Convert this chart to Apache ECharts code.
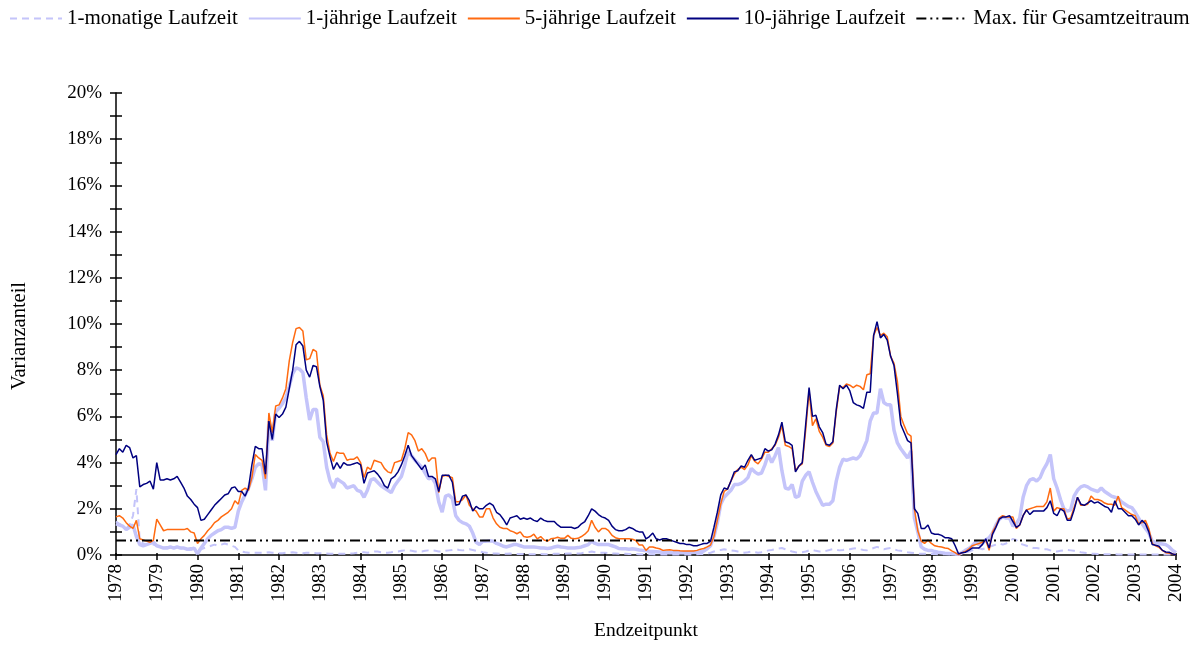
<!DOCTYPE html>
<html>
<head>
<meta charset="utf-8">
<script src="https://cdn.jsdelivr.net/npm/echarts@6/dist/echarts.min.js"></script>
<style>
  html, body { margin: 0; padding: 0; background: #fff; }
  #chart { width: 1200px; height: 646px; }
</style>
</head>
<body>
<div id="chart"></div>
<script>
// monthly values in %, first value = Jan 1978, last value = Jan 2004
const startYear = 1978;
const endYear = 2004;
const yTicks = [0, 2, 4, 6, 8, 10, 12, 14, 16, 18, 20];
const maxValue = 0.63;

const names = ['1-monatige Laufzeit', '1-jährige Laufzeit', '5-jährige Laufzeit', '10-jährige Laufzeit', 'Max. für Gesamtzeitraum'];

const m1 = [
    1.45, 1.35, 1.25, 1.15, 1.3, 1.7, 2.85, 0.6, 0.5, 0.45, 0.5, 0.45,   // 1978
    0.4, 0.35, 0.3, 0.35, 0.3, 0.3, 0.35, 0.3, 0.25, 0.25, 0.3, 0.25,     // 1979
    0.2, 0.25, 0.3, 0.35, 0.4, 0.45, 0.4, 0.45, 0.5, 0.45, 0.4, 0.35,     // 1980
    0.2, 0.15, 0.12, 0.1, 0.1, 0.1, 0.1, 0.1, 0.1, 0.12, 0.1, 0.1,        // 1981
    0.08, 0.08, 0.1, 0.1, 0.12, 0.1, 0.08, 0.08, 0.1, 0.1, 0.1, 0.08,     // 1982
    0.08, 0.07, 0.06, 0.05, 0.05, 0.06, 0.05, 0.05, 0.06, 0.07, 0.08, 0.1, // 1983
    0.12, 0.12, 0.1, 0.12, 0.15, 0.15, 0.12, 0.1, 0.1, 0.12, 0.15, 0.15,  // 1984
    0.18, 0.2, 0.2, 0.18, 0.15, 0.15, 0.15, 0.18, 0.2, 0.2, 0.18, 0.15,   // 1985
    0.15, 0.18, 0.2, 0.22, 0.25, 0.22, 0.2, 0.22, 0.25, 0.22, 0.18, 0.15, // 1986
    0.12, 0.1, 0.08, 0.07, 0.06, 0.05, 0.05, 0.05, 0.06, 0.05, 0.04, 0.04, // 1987
    0.04, 0.04, 0.03, 0.03, 0.04, 0.04, 0.03, 0.03, 0.04, 0.05, 0.05, 0.05, // 1988
    0.05, 0.06, 0.06, 0.07, 0.07, 0.08, 0.1, 0.12, 0.15, 0.12, 0.1, 0.1,  // 1989
    0.1, 0.08, 0.07, 0.06, 0.05, 0.05, 0.05, 0.04, 0.04, 0.04, 0.03, 0.03, // 1990
    0.03, 0.03, 0.03, 0.02, 0.02, 0.02, 0.02, 0.02, 0.02, 0.02, 0.02, 0.02, // 1991
    0.02, 0.02, 0.03, 0.03, 0.04, 0.05, 0.07, 0.1, 0.15, 0.2, 0.22, 0.25, // 1992
    0.22, 0.2, 0.18, 0.15, 0.12, 0.1, 0.12, 0.15, 0.12, 0.1, 0.12, 0.15,  // 1993
    0.2, 0.22, 0.25, 0.28, 0.3, 0.25, 0.2, 0.15, 0.12, 0.1, 0.12, 0.15,   // 1994
    0.2, 0.22, 0.18, 0.15, 0.15, 0.18, 0.22, 0.25, 0.22, 0.2, 0.22, 0.25, // 1995
    0.25, 0.28, 0.3, 0.25, 0.22, 0.2, 0.25, 0.3, 0.35, 0.3, 0.25, 0.28,   // 1996
    0.3, 0.25, 0.2, 0.18, 0.15, 0.12, 0.1, 0.08, 0.06, 0.05, 0.05, 0.05,  // 1997
    0.04, 0.04, 0.03, 0.03, 0.03, 0.03, 0.02, 0.02, 0.02, 0.05, 0.1, 0.15, // 1998
    0.2, 0.25, 0.3, 0.25, 0.3, 0.35, 0.4, 0.45, 0.5, 0.45, 0.5, 0.6,      // 1999
    0.7, 0.65, 0.5, 0.45, 0.4, 0.35, 0.3, 0.3, 0.28, 0.25, 0.25, 0.2,     // 2000
    0.15, 0.15, 0.18, 0.2, 0.22, 0.2, 0.18, 0.15, 0.12, 0.1, 0.08, 0.06,  // 2001
    0.05, 0.04, 0.04, 0.03, 0.03, 0.03, 0.03, 0.02, 0.02, 0.02, 0.02, 0.02, // 2002
    0.02, 0.02, 0.02, 0.02, 0.02, 0.02, 0.02, 0.02, 0.02, 0.02, 0.02, 0.02, // 2003
    0.02                                                                    // 2004
];

const y1 = [
    1.35, 1.3, 1.25, 1.1, 1.2, 1.3, 0.8, 0.45, 0.4, 0.45, 0.5, 0.55,      // 1978
    0.4, 0.35, 0.3, 0.3, 0.35, 0.3, 0.35, 0.3, 0.3, 0.25, 0.25, 0.3,      // 1979
    0.05, 0.3, 0.5, 0.7, 0.85, 0.95, 1.05, 1.1, 1.2, 1.2, 1.15, 1.2,      // 1980
    1.9, 2.3, 2.6, 2.9, 3.3, 3.8, 3.95, 3.9, 2.8, 5.8, 4.95, 6.2,         // 1981
    6.35, 6.55, 6.8, 7.3, 7.85, 8.1, 8.05, 7.9, 6.8, 5.85, 6.3, 6.3,      // 1982
    5.1, 4.9, 3.8, 3.2, 2.9, 3.3, 3.2, 3.1, 2.9, 2.95, 3.0, 2.8,          // 1983
    2.75, 2.5, 2.8, 3.25, 3.3, 3.15, 3.0, 2.9, 2.8, 2.7, 3.0, 3.2,        // 1984
    3.4, 3.9, 4.5, 4.3, 4.1, 3.95, 3.8, 3.55, 3.3, 3.35, 3.1, 2.3,        // 1985
    1.85, 2.55, 2.6, 2.45, 1.7, 1.5, 1.4, 1.35, 1.25, 0.95, 0.55, 0.45,   // 1986
    0.6, 0.6, 0.62, 0.6, 0.5, 0.45, 0.38, 0.35, 0.4, 0.45, 0.45, 0.4,     // 1987
    0.35, 0.35, 0.35, 0.35, 0.33, 0.3, 0.3, 0.28, 0.3, 0.35, 0.38, 0.35,  // 1988
    0.33, 0.3, 0.3, 0.3, 0.32, 0.35, 0.4, 0.45, 0.6, 0.5, 0.45, 0.45,     // 1989
    0.45, 0.45, 0.4, 0.35, 0.28, 0.27, 0.27, 0.25, 0.27, 0.25, 0.22, 0.2, // 1990
    0.18, 0.16, 0.15, 0.14, 0.13, 0.12, 0.11, 0.1, 0.1, 0.1, 0.1, 0.1,    // 1991
    0.1, 0.11, 0.12, 0.12, 0.13, 0.17, 0.27, 0.4, 0.8, 1.4, 2.2, 2.5,     // 1992
    2.65, 2.8, 3.05, 3.05, 3.1, 3.2, 3.35, 3.75, 3.6, 3.5, 3.55, 3.9,     // 1993
    4.35, 4.0, 4.3, 4.65, 3.65, 2.9, 2.85, 3.05, 2.5, 2.55, 3.2, 3.45,    // 1994
    3.6, 3.15, 2.75, 2.45, 2.15, 2.2, 2.2, 2.35, 3.2, 3.8, 4.15, 4.1,     // 1995
    4.15, 4.2, 4.15, 4.3, 4.6, 4.95, 5.8, 6.15, 6.15, 7.2, 6.6, 6.5,      // 1996
    6.5, 5.4, 4.85, 4.6, 4.4, 4.2, 4.5, 1.6, 1.0, 0.35, 0.25, 0.2,        // 1997
    0.2, 0.15, 0.12, 0.1, 0.08, 0.07, 0.05, 0.04, 0.03, 0.1, 0.2, 0.28,   // 1998
    0.4, 0.55, 0.45, 0.5, 0.65, 0.75, 0.95, 1.3, 1.55, 1.65, 1.6, 1.6,    // 1999
    1.25, 1.35, 1.6, 2.5, 3.0, 3.25, 3.3, 3.2, 3.35, 3.7, 3.95, 4.35,     // 2000
    3.3, 2.9, 2.4, 2.0, 1.9, 1.95, 2.55, 2.8, 2.95, 3.0, 2.95, 2.85,      // 2001
    2.8, 2.75, 2.9, 2.75, 2.65, 2.55, 2.5, 2.45, 2.3, 2.2, 2.1, 2.05,     // 2002
    1.85, 1.6, 1.35, 1.15, 0.95, 0.6, 0.55, 0.5, 0.48, 0.45, 0.35, 0.2,   // 2003
    0.1                                                                   // 2004
];

const y5 = [
    1.65, 1.7, 1.6, 1.4, 1.25, 1.15, 1.5, 0.7, 0.65, 0.6, 0.55, 0.63,     // 1978
    1.55, 1.3, 1.05, 1.1, 1.1, 1.1, 1.1, 1.1, 1.1, 1.15, 1.0, 0.95,       // 1979
    0.5, 0.7, 0.85, 1.05, 1.2, 1.4, 1.5, 1.65, 1.75, 1.85, 2.0, 2.35,     // 1980
    2.2, 2.8, 2.9, 2.8, 3.35, 4.35, 4.2, 4.1, 3.3, 6.15, 5.3, 6.45,       // 1981
    6.5, 6.8, 7.2, 8.4, 9.2, 9.8, 9.85, 9.7, 8.45, 8.5, 8.9, 8.8,         // 1982
    7.35, 6.9, 5.2, 4.4, 4.05, 4.45, 4.4, 4.4, 4.1, 4.15, 4.15, 4.25,     // 1983
    4.0, 3.35, 3.8, 3.7, 4.1, 4.05, 4.0, 3.75, 3.6, 3.55, 4.0, 4.05,      // 1984
    4.1, 4.6, 5.3, 5.2, 4.95, 4.5, 4.6, 4.4, 4.05, 4.2, 4.2, 2.7,         // 1985
    3.4, 3.45, 3.4, 3.35, 2.3, 2.3, 2.4, 2.6, 2.15, 2.0, 1.9, 1.65,       // 1986
    1.65, 2.0, 2.0, 1.6, 1.35, 1.2, 1.15, 1.15, 1.05, 1.0, 0.92, 1.0,     // 1987
    0.8, 0.77, 0.8, 0.9, 0.7, 0.8, 0.65, 0.6, 0.7, 0.72, 0.77, 0.72,      // 1988
    0.72, 0.85, 0.72, 0.7, 0.72, 0.8, 0.9, 1.05, 1.5, 1.2, 1.0, 1.15,     // 1989
    1.15, 1.05, 0.85, 0.75, 0.7, 0.7, 0.7, 0.7, 0.68, 0.63, 0.43, 0.43,   // 1990
    0.2, 0.35, 0.35, 0.3, 0.27, 0.2, 0.22, 0.23, 0.2, 0.2, 0.18, 0.17,    // 1991
    0.17, 0.17, 0.17, 0.2, 0.25, 0.28, 0.35, 0.43, 0.8, 1.5, 2.2, 2.75,   // 1992
    2.85, 3.2, 3.5, 3.7, 3.8, 3.7, 3.9, 4.3, 4.05, 3.95, 4.15, 4.45,      // 1993
    4.45, 4.6, 4.75, 5.1, 5.6, 4.75, 4.7, 4.6, 3.65, 3.85, 3.95, 5.4,     // 1994
    7.1, 5.6, 5.9, 5.35, 5.1, 4.75, 4.7, 4.85, 6.2, 7.3, 7.25, 7.4,       // 1995
    7.35, 7.25, 7.35, 7.3, 7.15, 7.8, 7.85, 9.5, 9.85, 9.5, 9.6, 9.45,    // 1996
    8.6, 8.3, 7.5, 6.0, 5.6, 5.25, 5.15, 2.0, 1.05, 0.6, 0.5, 0.65,       // 1997
    0.5, 0.4, 0.37, 0.35, 0.3, 0.28, 0.18, 0.1, 0.0, 0.1, 0.15, 0.25,     // 1998
    0.4, 0.45, 0.5, 0.55, 0.65, 0.2, 1.0, 1.25, 1.6, 1.7, 1.65, 1.65,     // 1999
    1.65, 1.15, 1.3, 1.7, 1.95, 2.0, 2.05, 2.1, 2.1, 2.1, 2.3, 2.9,       // 2000
    1.9, 2.05, 2.0, 2.0, 1.55, 1.6, 2.05, 2.5, 2.15, 2.15, 2.2, 2.55,     // 2001
    2.4, 2.4, 2.35, 2.25, 2.2, 2.2, 2.15, 2.55, 2.05, 1.95, 1.85, 1.75,   // 2002
    1.7, 1.35, 1.4, 1.5, 1.15, 0.5, 0.4, 0.33, 0.2, 0.1, 0.08, 0.05,      // 2003
    0.0                                                                   // 2004
];

const y10 = [
    4.35, 4.6, 4.45, 4.75, 4.65, 4.2, 4.3, 2.95, 3.05, 3.1, 3.2, 2.85,    // 1978
    4.0, 3.25, 3.25, 3.3, 3.25, 3.3, 3.4, 3.15, 2.9, 2.55, 2.4, 2.2,      // 1979
    2.05, 1.5, 1.55, 1.75, 1.95, 2.15, 2.3, 2.45, 2.6, 2.65, 2.9, 2.95,   // 1980
    2.75, 2.75, 2.55, 2.9, 3.9, 4.7, 4.6, 4.6, 3.5, 5.8, 5.0, 6.1,        // 1981
    5.95, 6.1, 6.4, 7.2, 8.0, 9.1, 9.25, 9.05, 8.0, 7.7, 8.2, 8.15,       // 1982
    7.3, 6.7, 4.9, 4.25, 3.7, 4.0, 3.75, 4.0, 3.9, 3.9, 3.95, 4.0,        // 1983
    3.9, 3.1, 3.55, 3.6, 3.65, 3.5, 3.3, 3.0, 2.9, 3.3, 3.4, 3.6,         // 1984
    3.9, 4.3, 4.75, 4.3, 4.1, 3.9, 3.7, 3.9, 3.4, 3.4, 3.3, 2.75,         // 1985
    3.45, 3.45, 3.45, 3.15, 2.15, 2.2, 2.55, 2.6, 2.35, 1.9, 2.1, 2.0,    // 1986
    2.0, 2.15, 2.25, 2.15, 1.85, 1.75, 1.55, 1.3, 1.6, 1.65, 1.7, 1.55,   // 1987
    1.6, 1.55, 1.6, 1.5, 1.45, 1.6, 1.5, 1.45, 1.45, 1.45, 1.3, 1.2,      // 1988
    1.2, 1.2, 1.2, 1.15, 1.2, 1.35, 1.45, 1.7, 2.0, 1.9, 1.75, 1.65,      // 1989
    1.6, 1.5, 1.25, 1.1, 1.05, 1.05, 1.1, 1.2, 1.15, 1.05, 1.0, 1.0,      // 1990
    0.7, 0.8, 0.95, 0.7, 0.65, 0.7, 0.7, 0.65, 0.6, 0.55, 0.5, 0.5,       // 1991
    0.45, 0.45, 0.4, 0.4, 0.45, 0.5, 0.5, 0.6, 1.2, 1.85, 2.6, 2.9,       // 1992
    2.85, 3.2, 3.6, 3.65, 3.85, 3.8, 4.1, 4.35, 4.1, 4.15, 4.2, 4.6,      // 1993
    4.5, 4.55, 4.8, 5.2, 5.75, 4.9, 4.85, 4.75, 3.6, 3.85, 4.0, 5.65,     // 1994
    7.25, 6.0, 6.05, 5.55, 5.3, 4.8, 4.75, 4.9, 6.3, 7.35, 7.2, 7.35,     // 1995
    7.1, 6.6, 6.5, 6.45, 6.35, 7.05, 7.05, 9.5, 10.1, 9.4, 9.55, 9.3,     // 1996
    8.6, 8.2, 7.0, 5.65, 5.3, 4.95, 4.85, 2.0, 1.8, 1.15, 1.15, 1.3,      // 1997
    0.95, 0.9, 0.9, 0.85, 0.75, 0.75, 0.7, 0.4, 0.05, 0.1, 0.12, 0.2,     // 1998
    0.3, 0.3, 0.3, 0.45, 0.7, 0.3, 0.9, 1.2, 1.55, 1.65, 1.65, 1.7,       // 1999
    1.45, 1.2, 1.3, 1.7, 1.95, 1.75, 1.9, 1.9, 1.9, 1.9, 2.05, 2.35,      // 2000
    1.8, 1.7, 2.0, 1.9, 1.5, 1.5, 1.95, 2.5, 2.2, 2.15, 2.25, 2.35,       // 2001
    2.25, 2.3, 2.2, 2.1, 2.05, 1.85, 2.35, 2.0, 2.0, 1.85, 1.7, 1.7,      // 2002
    1.55, 1.3, 1.5, 1.35, 1.0, 0.45, 0.42, 0.38, 0.2, 0.13, 0.12, 0.05,   // 2003
    0.0                                                                   // 2004
];

function toPoints (values) {
    return values.map(function (v, i) { return [startYear + i / 12, v]; });
}

const font = 'Liberation Serif';
const gridLeft = 116, gridRight = 24, gridTop = 93, gridBottom = 88;
const gridW = 1200 - gridLeft - gridRight;
const gridH = 646 - gridTop - gridBottom;

const chart = echarts.init(document.getElementById('chart'), null, { renderer: 'canvas' });

const option = {
    animation: false,
    backgroundColor: '#ffffff',
    textStyle: { fontFamily: font, color: '#000' },
    legend: {
        left: 9,
        top: 8,
        width: 1191,
        padding: 0,
        itemGap: 10,
        itemWidth: 52,
        itemHeight: 12,
        // hide the marker circle ECharts puts on line legend icons
        itemStyle: { opacity: 0 },
        textStyle: { fontFamily: font, fontSize: 21, color: '#000' },
        data: names
    },
    graphic: [
        {
            type: 'text',
            x: 20,
            y: 336,
            rotation: Math.PI / 2,
            style: {
                text: 'Varianzanteil',
                font: '20.5px "Liberation Serif"',
                fill: '#000',
                textAlign: 'center',
                textVerticalAlign: 'middle'
            }
        }
    ],
    grid: { left: gridLeft, right: gridRight, top: gridTop, bottom: gridBottom },
    xAxis: [
        {
            type: 'value',
            min: startYear,
            max: endYear,
            interval: 1,
            name: 'Endzeitpunkt',
            nameLocation: 'middle',
            nameGap: 66,
            nameTextStyle: { fontFamily: font, fontSize: 19.5, color: '#000' },
            axisLine: { show: true, lineStyle: { color: '#000', width: 1.5 } },
            axisTick: { show: true, length: 5, lineStyle: { color: '#000', width: 1.5 } },
            axisLabel: {
                rotate: 90,
                margin: 9,
                fontFamily: font,
                fontSize: 19,
                color: '#000',
                formatter: function (v) { return String(v); }
            },
            splitLine: { show: false }
        },
        {
            // inner half of the crossing ticks
            type: 'value',
            position: 'top',
            offset: -gridH,
            min: startYear,
            max: endYear,
            interval: 1,
            axisLine: { show: false },
            axisTick: { show: true, length: 5, lineStyle: { color: '#000', width: 1.5 } },
            axisLabel: { show: false },
            splitLine: { show: false }
        }
    ],
    yAxis: [
        {
            type: 'value',
            min: yTicks[0],
            max: yTicks[yTicks.length - 1],
            interval: 2,
            axisLine: { show: true, lineStyle: { color: '#000', width: 1.5 } },
            axisTick: { show: true, length: 6, lineStyle: { color: '#000', width: 1.5 } },
            minorTick: { show: true, splitNumber: 2, length: 6, lineStyle: { color: '#000', width: 1.5 } },
            axisLabel: {
                margin: 14,
                fontFamily: font,
                fontSize: 19,
                color: '#000',
                formatter: '{value}%'
            },
            splitLine: { show: false }
        },
        {
            type: 'value',
            position: 'right',
            offset: -gridW,
            min: yTicks[0],
            max: yTicks[yTicks.length - 1],
            interval: 2,
            axisLine: { show: false },
            axisTick: { show: true, length: 6, lineStyle: { color: '#000', width: 1.5 } },
            minorTick: { show: true, splitNumber: 2, length: 6, lineStyle: { color: '#000', width: 1.5 } },
            axisLabel: { show: false },
            splitLine: { show: false }
        }
    ],
    series: [
        {
            name: names[0],
            type: 'line',
            symbol: 'none',
            data: toPoints(m1),
            lineStyle: { color: '#c4c4fa', width: 2, type: [7, 5] },
            itemStyle: { color: '#c4c4fa' },
            z: 2
        },
        {
            name: names[1],
            type: 'line',
            symbol: 'none',
            data: toPoints(y1),
            lineStyle: { color: '#c4c4fa', width: 3.5 },
            itemStyle: { color: '#c4c4fa' },
            z: 3
        },
        {
            name: names[2],
            type: 'line',
            symbol: 'none',
            data: toPoints(y5),
            lineStyle: { color: '#ff6a10', width: 1.5 },
            itemStyle: { color: '#ff6a10' },
            z: 4
        },
        {
            name: names[3],
            type: 'line',
            symbol: 'none',
            data: toPoints(y10),
            lineStyle: { color: '#000080', width: 1.5 },
            itemStyle: { color: '#000080' },
            z: 5
        },
        {
            name: names[4],
            type: 'line',
            symbol: 'none',
            data: [[startYear, maxValue], [endYear, maxValue]],
            lineStyle: { color: '#000', width: 2, type: [10, 4, 2, 4, 2, 4] },
            itemStyle: { color: '#000' },
            z: 6
        }
    ]
};

chart.setOption(option);
</script>
</body>
</html>
